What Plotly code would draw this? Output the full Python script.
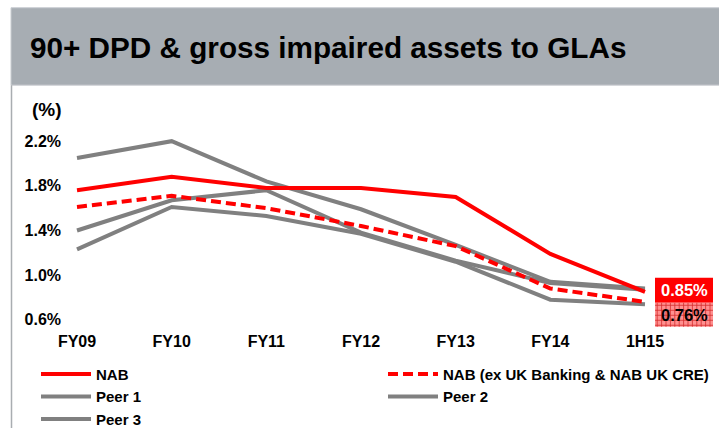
import plotly.graph_objects as go

categories = ["FY09", "FY10", "FY11", "FY12", "FY13", "FY14", "1H15"]
nab = [1.76, 1.88, 1.78, 1.78, 1.70, 1.19, 0.85]
nab_ex_uk = [1.61, 1.71, 1.60, 1.44, 1.26, 0.88, 0.76]
peer1 = [2.05, 2.20, 1.84, 1.59, 1.27, 0.94, 0.88]
peer2 = [1.40, 1.67, 1.76, 1.38, 1.13, 0.93, 0.87]
peer3 = [1.23, 1.61, 1.53, 1.37, 1.12, 0.78, 0.74]
y_ticks = [0.6, 1.0, 1.4, 1.8, 2.2]
y_tick_labels = ["0.6%", "1.0%", "1.4%", "1.8%", "2.2%"]
title_text = "90+ DPD & gross impaired assets to GLAs"
label_nab = "0.85%"
label_nab_ex = "0.76%"

W, H = 719, 428
L, R = 66, 1
Y0, Y1 = 0.58, 2.3
pxper = 111.8
bottom_px = 320 + (0.6 - Y0) * pxper
top_px = 320 - (Y1 - 0.6) * pxper
T = top_px
B = H - bottom_px
plot_w = W - L - R
plot_h = H - T - B
xstep = 94.67


def px2x(px):
    return (px - L) / plot_w


def py2y(py):
    return (bottom_px - py) / plot_h


RED = "#FF0000"
GRAY = "#808080"
FONT = "Liberation Sans, Arial, sans-serif"

fig = go.Figure()
order = [
    ("Peer 3", peer3, GRAY, "solid", 5),
    ("Peer 2", peer2, GRAY, "solid", 4),
    ("Peer 1", peer1, GRAY, "solid", 3),
    ("NAB (ex UK Banking & NAB UK CRE)", nab_ex_uk, RED, "10px,5px", 2),
    ("NAB", nab, RED, "solid", 1),
]
for name, vals, col, dash, rank in order:
    fig.add_trace(go.Scatter(
        x=categories, y=vals, name=name, mode="lines",
        line=dict(color=col, width=4, dash=dash),
        legendrank=rank, hoverinfo="skip",
    ))

shapes = []
# header band
shapes.append(dict(type="rect", xref="paper", yref="paper",
                   x0=px2x(11), x1=px2x(721), y0=py2y(85), y1=py2y(7.5),
                   fillcolor="#A7ADB3", line=dict(color="#C9CDD1", width=1), layer="below"))
# left border line
shapes.append(dict(type="line", xref="paper", yref="paper",
                   x0=px2x(11.5), x1=px2x(11.5), y0=py2y(85), y1=py2y(430),
                   line=dict(color="#A9ADB1", width=1.5)))
# value boxes
bx0, bx1 = 655, 713
shapes.append(dict(type="rect", xref="paper", yref="paper",
                   x0=px2x(bx0), x1=px2x(bx1), y0=py2y(303), y1=py2y(278),
                   fillcolor=RED, line=dict(width=0)))
shapes.append(dict(type="rect", xref="paper", yref="paper",
                   x0=px2x(bx0), x1=px2x(bx1), y0=py2y(327), y1=py2y(303),
                   fillcolor="#FF9090", line=dict(width=0)))
gx = bx0 + 2.2
while gx < bx1:
    shapes.append(dict(type="line", xref="paper", yref="paper",
                       x0=px2x(gx), x1=px2x(gx), y0=py2y(327), y1=py2y(303),
                       line=dict(color="rgba(210,40,40,0.75)", width=1)))
    gx += 4.4
gy = 305.5
while gy < 327:
    shapes.append(dict(type="line", xref="paper", yref="paper",
                       x0=px2x(bx0), x1=px2x(bx1), y0=py2y(gy), y1=py2y(gy),
                       line=dict(color="rgba(210,40,40,0.75)", width=1)))
    gy += 5

annotations = [
    dict(text="<b>" + title_text + "</b>", xref="paper", yref="paper",
         x=px2x(28), y=py2y(47), xanchor="left", yanchor="middle", showarrow=False,
         font=dict(family=FONT, size=29.7, color="#000000")),
    dict(text="<b>(%)</b>", xref="paper", yref="paper",
         x=px2x(30), y=py2y(109), xanchor="left", yanchor="middle", showarrow=False,
         font=dict(family=FONT, size=19, color="#000000")),
    dict(text="<b>" + label_nab + "</b>", xref="paper", yref="paper",
         x=px2x((bx0 + bx1) / 2), y=py2y(290.5), xanchor="center", yanchor="middle",
         showarrow=False, font=dict(family=FONT, size=16.5, color="#FFFFFF")),
    dict(text="<b>" + label_nab_ex + "</b>", xref="paper", yref="paper",
         x=px2x((bx0 + bx1) / 2), y=py2y(315), xanchor="center", yanchor="middle",
         showarrow=False, font=dict(family=FONT, size=16.5, color="#000000")),
]

fig.update_layout(
    width=W, height=H,
    margin=dict(l=L, r=R, t=T, b=B, autoexpand=False),
    paper_bgcolor="#FFFFFF", plot_bgcolor="#FFFFFF",
    font=dict(family=FONT, color="#000000"),
    showlegend=True,
    legend=dict(orientation="h", x=px2x(36), y=py2y(358), xanchor="left", yanchor="top",
                entrywidth=282, entrywidthmode="pixels", itemwidth=50,
                font=dict(family=FONT, size=15, color="#000000", weight="bold"),
                bgcolor="rgba(0,0,0,0)", traceorder="normal"),
    shapes=shapes,
    annotations=annotations,
    xaxis=dict(type="category", categoryorder="array", categoryarray=categories,
               range=[-(77 - L) / xstep, 6 + (W - R - 645) / xstep],
               showgrid=False, zeroline=False, showline=False, ticks="",
               ticklabelstandoff=8,
               tickfont=dict(family=FONT, size=16, color="#000000", weight="bold")),
    yaxis=dict(range=[Y0, Y1], tickvals=y_ticks, ticktext=y_tick_labels,
               showgrid=False, zeroline=False, showline=False, ticks="",
               ticklabelstandoff=4,
               tickfont=dict(family=FONT, size=16, color="#000000", weight="bold")),
)

fig.write_html("out.html", config={"displayModeBar": False},
               post_script="document.body.style.margin='0px';")
